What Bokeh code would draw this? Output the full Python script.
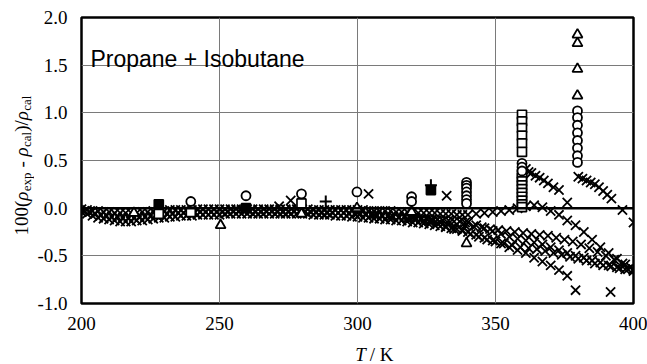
import math
from bokeh.plotting import figure
from bokeh.layouts import row, column
from bokeh.models import Range1d, FixedTicker, NumeralTickFormatter, Span, Label
from bokeh.embed import file_html
from bokeh.resources import INLINE

# ---------------- data ----------------
x_ticks = [200, 250, 300, 350, 400]
y_ticks = [-1.0, -0.5, 0.0, 0.5, 1.0, 1.5, 2.0]
title_text = "Propane + Isobutane"

# crosses: upper band line, continues near zero then falls to 400 K
cross_a_T = [200, 202, 204, 206, 208, 210, 212, 214, 216, 218, 220, 222, 224, 226, 228, 230,
             232, 234, 236, 238, 240, 242, 244, 246, 248, 250, 252, 254, 256, 258, 260, 262,
             264, 266, 268, 270, 272, 274, 276, 278, 280, 282, 284, 286, 288, 290, 292, 294,
             296, 298, 300, 302, 304, 306, 308, 310, 312, 314, 316, 318, 320, 322, 324, 326,
             328, 330, 332, 334, 336, 338, 340,
             343, 346, 349, 352, 355, 358, 361, 364, 367, 370, 373, 376, 379, 382, 385, 388,
             391, 394, 397, 400]
cross_a_dev = [-0.01, -0.02, -0.03, -0.03, -0.04, -0.04, -0.05, -0.05, -0.05, -0.05, -0.05, -0.04,
               -0.04, -0.03, -0.03, -0.03, -0.02, -0.02, -0.02, -0.02, -0.02, -0.01, -0.01, -0.01,
               -0.01, -0.01, -0.01, -0.01, -0.01, -0.01, -0.01, -0.01, -0.01, -0.01, -0.01, -0.01,
               -0.01, -0.01, -0.01, -0.01, -0.01, -0.01, -0.02, -0.02, -0.02, -0.02, -0.02, -0.02,
               -0.02, -0.02, -0.02, -0.02, -0.03, -0.03, -0.03, -0.03, -0.03, -0.04, -0.04, -0.04,
               -0.04, -0.05, -0.05, -0.05, -0.05, -0.06, -0.06, -0.06, -0.07, -0.07, -0.07,
               -0.06, -0.05, -0.04, -0.03, -0.02, 0.00, 0.02, 0.03, 0.01, -0.03, -0.07, -0.13,
               -0.18, -0.25, -0.33, -0.41, -0.47, -0.53, -0.59, -0.64]

# crosses: middle band line
cross_m_T = [201, 203, 205, 207, 209, 211, 213, 215, 217, 219,
             221, 223, 225, 227, 229, 231, 233, 235, 237, 239,
             241, 243, 245, 247, 249, 251, 253, 255, 257, 259,
             261, 263, 265, 267, 269, 271, 273, 275, 277, 279,
             281, 283, 285, 287, 289, 291, 293, 295, 297, 299,
             301, 303, 305, 307, 309, 311, 313, 315, 317, 319,
             321, 323, 325, 327, 329, 331, 333, 335, 337, 339]
cross_m_dev = [-0.03, -0.04, -0.06, -0.07, -0.08, -0.09, -0.09, -0.10, -0.10, -0.10,
               -0.09, -0.09, -0.08, -0.07, -0.07, -0.06, -0.06, -0.05, -0.05, -0.05,
               -0.05, -0.04, -0.04, -0.04, -0.04, -0.04, -0.04, -0.03, -0.03, -0.03,
               -0.03, -0.04, -0.04, -0.03, -0.03, -0.04, -0.04, -0.04, -0.03, -0.03,
               -0.04, -0.04, -0.04, -0.05, -0.05, -0.05, -0.05, -0.05, -0.06, -0.06,
               -0.06, -0.07, -0.07, -0.07, -0.08, -0.08, -0.09, -0.09, -0.09, -0.10,
               -0.10, -0.11, -0.11, -0.12, -0.12, -0.13, -0.13, -0.14, -0.14, -0.15]

# crosses: lower band line
cross_b_T = [200, 202, 204, 206, 208, 210, 212, 214, 216, 218, 220, 222, 224, 226, 228, 230,
             232, 234, 236, 238, 240, 242, 244, 246, 248, 250, 252, 254, 256, 258, 260, 262,
             264, 266, 268, 270, 272, 274, 276, 278, 280, 282, 284, 286, 288, 290, 292, 294,
             296, 298, 300, 302, 304, 306, 308, 310, 312, 314, 316, 318, 320, 322, 324, 326,
             328, 330, 332, 334, 336, 338, 340,
             343, 346, 349, 352, 355, 358, 361, 364, 367, 370, 373, 376, 379]
cross_b_dev = [-0.04, -0.06, -0.08, -0.10, -0.11, -0.12, -0.13, -0.14, -0.14, -0.14, -0.13, -0.13,
               -0.12, -0.11, -0.10, -0.10, -0.09, -0.09, -0.08, -0.08, -0.08, -0.07, -0.07, -0.07,
               -0.07, -0.07, -0.06, -0.06, -0.06, -0.06, -0.06, -0.06, -0.06, -0.06, -0.06, -0.06,
               -0.06, -0.06, -0.06, -0.06, -0.06, -0.06, -0.07, -0.07, -0.07, -0.07, -0.08, -0.08,
               -0.08, -0.09, -0.09, -0.10, -0.10, -0.11, -0.11, -0.12, -0.12, -0.13, -0.13, -0.14,
               -0.15, -0.15, -0.16, -0.17, -0.18, -0.19, -0.20, -0.21, -0.22, -0.23, -0.25,
               -0.28, -0.31, -0.34, -0.37, -0.41, -0.44, -0.47, -0.52, -0.56, -0.60, -0.65, -0.71,
               -0.86]

# crosses: diverging lines at high temperature
cross_c_T = [300, 303, 306, 309, 312, 315, 318, 321, 324, 327, 330, 333, 336, 339, 342, 345,
             348, 351, 354, 357, 360, 363, 366, 369, 372, 375, 378, 381, 384, 387, 390, 393,
             396, 399]
cross_c_dev = [-0.05, -0.06, -0.07, -0.08, -0.09, -0.10, -0.11, -0.12, -0.13, -0.14, -0.15, -0.16,
               -0.17, -0.18, -0.19, -0.20, -0.22, -0.23, -0.24, -0.25, -0.26, -0.27, -0.28, -0.29,
               -0.31, -0.33, -0.35, -0.38, -0.42, -0.46, -0.50, -0.54, -0.58, -0.62]

cross_d_T = [320, 323, 326, 329, 332, 335, 338, 341, 344, 347, 350, 353, 356, 359, 362, 365,
             368, 371, 374, 377, 380, 383, 386, 389, 392, 395, 398, 400]
cross_d_dev = [-0.10, -0.12, -0.14, -0.16, -0.19, -0.22, -0.24, -0.27, -0.30, -0.33, -0.35, -0.37,
               -0.39, -0.41, -0.42, -0.43, -0.45, -0.47, -0.49, -0.51, -0.53, -0.55, -0.58, -0.60,
               -0.61, -0.63, -0.64, -0.65]

cross_e_T = [340, 343, 346, 349, 352, 355, 358, 361, 364, 367, 370, 373, 376, 379, 382, 385,
             388, 391, 394, 397, 400]
cross_e_dev = [-0.15, -0.18, -0.21, -0.24, -0.27, -0.30, -0.32, -0.34, -0.36, -0.38, -0.41, -0.44,
               -0.47, -0.50, -0.52, -0.55, -0.57, -0.60, -0.62, -0.64, -0.66]

# crosses: two upper branches and isolated points
cross_f_T = [361, 362, 363, 364.5, 366, 367.5, 369, 371, 373, 376]
cross_f_dev = [0.41, 0.38, 0.37, 0.34, 0.32, 0.29, 0.26, 0.22, 0.19, 0.06]
cross_g_T = [380, 381.5, 383, 384.5, 386, 387.5, 389, 390.5, 392, 396, 400]
cross_g_dev = [0.33, 0.31, 0.29, 0.27, 0.25, 0.22, 0.18, 0.14, 0.10, -0.02, -0.15]
cross_h_T = [271.6, 275.8, 304.0, 332.3, 391.7]
cross_h_dev = [0.02, 0.08, 0.15, 0.13, -0.88]

# open circles
circ_T = [239.6, 259.6, 279.7, 299.8, 319.6, 319.6,
          339.5, 339.5, 339.5, 339.5, 339.5, 339.5, 339.5,
          359.6, 359.6, 359.6,
          379.7, 379.7, 379.7, 379.7, 379.7, 379.7, 379.7, 379.7]
circ_dev = [0.07, 0.13, 0.15, 0.17, 0.12, 0.07,
            0.27, 0.24, 0.21, 0.17, 0.13, 0.09, 0.05,
            0.47, 0.43, 0.39,
            1.02, 0.95, 0.87, 0.79, 0.71, 0.63, 0.55, 0.48]

# open squares
sq_T = [228.0, 239.6, 279.7,
        359.6, 359.6, 359.6, 359.6, 359.6, 359.6,
        359.6, 359.6, 359.6, 359.6, 359.6, 359.6, 359.6, 359.6, 359.6, 359.6]
sq_dev = [-0.06, -0.04, 0.05,
          0.98, 0.91, 0.84, 0.76, 0.68, 0.59,
          0.36, 0.32, 0.28, 0.24, 0.20, 0.16, 0.12, 0.08, 0.04, 0.01]

# filled squares
fsq_T = [228.0, 259.6, 326.6]
fsq_dev = [0.04, 0.00, 0.19]

# open triangles
tri_T = [219.0, 250.4, 279.7, 299.8, 319.6, 339.5, 379.7, 379.7, 379.7, 379.7]
tri_dev = [-0.05, -0.18, -0.06, 0.00, -0.04, -0.37, 1.18, 1.46, 1.73, 1.82]

# plus signs
plus_T = [288.5, 326.6]
plus_dev = [0.07, 0.24]

# ---------------- layout geometry ----------------
X0, X1 = 200, 400
Y0, Y1 = -1.0, 2.0
W, H = 647, 364
LW = 34            # left strip (rotated axis title)
BH = 26            # bottom strip (x axis title)
MW, MH = W - LW, H - BH
BL, BR, BT, BB = 78 - LW, 14, 17, MH - 303
FW, FH = MW - BL - BR, MH - BT - BB

p = figure(width=MW, height=MH, x_range=Range1d(X0, X1), y_range=Range1d(Y0, Y1),
           output_backend="svg", toolbar_location=None,
           min_border_left=BL, min_border_right=BR, min_border_top=BT, min_border_bottom=BB)
p.background_fill_color = "white"
p.border_fill_color = "white"
p.outline_line_color = "black"
p.outline_line_width = 2.5

for ax in (p.xaxis[0], p.yaxis[0]):
    ax.axis_line_color = None
    ax.major_tick_line_color = None
    ax.minor_tick_line_color = None
    ax.major_tick_out = 0
    ax.major_tick_in = 0
    ax.minor_tick_out = 0
    ax.minor_tick_in = 0
    ax.major_label_text_font = "Liberation Serif"
    ax.major_label_text_font_size = "19px"
    ax.major_label_text_color = "black"
p.xaxis.ticker = FixedTicker(ticks=x_ticks)
p.yaxis.ticker = FixedTicker(ticks=y_ticks)
p.xaxis.formatter = NumeralTickFormatter(format="0")
p.yaxis.formatter = NumeralTickFormatter(format="0.0")
p.xaxis.major_label_standoff = 13
p.yaxis.major_label_standoff = 14

p.xgrid.ticker = FixedTicker(ticks=[250, 300, 350])
p.ygrid.ticker = FixedTicker(ticks=[-0.5, 0.5, 1.0, 1.5])
p.xgrid.grid_line_color = "#7a7a7a"
p.ygrid.grid_line_color = "#7a7a7a"
p.xgrid.grid_line_width = 1
p.ygrid.grid_line_width = 1

p.add_layout(Span(location=0, dimension="width", line_color="black", line_width=2.5))

cross_sets = [(cross_a_T, cross_a_dev), (cross_m_T, cross_m_dev), (cross_b_T, cross_b_dev),
              (cross_c_T, cross_c_dev), (cross_d_T, cross_d_dev), (cross_e_T, cross_e_dev),
              (cross_f_T, cross_f_dev), (cross_g_T, cross_g_dev), (cross_h_T, cross_h_dev)]
for tx, dv in cross_sets:
    p.scatter(tx, dv, marker="x", size=13, line_color="black", line_width=1.8)

p.scatter(sq_T, sq_dev, marker="square", size=9, fill_color="white", line_color="black", line_width=1.7)
p.scatter(fsq_T, fsq_dev, marker="square", size=9, fill_color="black", line_color="black", line_width=1.7)
p.scatter(circ_T, circ_dev, marker="circle", size=9, fill_color="white", line_color="black", line_width=1.8)
p.scatter(tri_T, tri_dev, marker="triangle", size=10, fill_color="white", line_color="black", line_width=1.8)
p.scatter(plus_T, plus_dev, marker="cross", size=12, line_color="black", line_width=2)

# title inside the frame
def tx_px(px):           # full-picture pixel x -> data x
    return X0 + (px - 78) * (X1 - X0) / FW

def vy_px(py):           # full-picture pixel y -> data y
    return Y1 - (py - 17) * (Y1 - Y0) / FH

p.add_layout(Label(x=tx_px(87), y=vy_px(58), text=title_text, text_font="Liberation Sans",
                   text_font_size="23px", text_color="black", text_align="left",
                   text_baseline="alphabetic"))

# ---------------- strips for the axis titles ----------------
def strip(w, h):
    f = figure(width=w, height=h, x_range=Range1d(0, w), y_range=Range1d(0, h),
               output_backend="svg", toolbar_location=None,
               x_axis_location=None, y_axis_location=None,
               min_border_left=0, min_border_right=0, min_border_top=0, min_border_bottom=0)
    f.outline_line_color = None
    f.xgrid.visible = False
    f.ygrid.visible = False
    f.background_fill_color = "white"
    f.border_fill_color = "white"
    return f

left = strip(LW, H)
# (text, style, font px, subscript?, advance before, advance of the piece)
pieces = [("100(", "normal", 19, 0, 0.0, 34.8), ("ρ", "italic", 19, 0, 0.0, 9.5),
          ("exp", "normal", 13, 1, 0.0, 18.8), ("-", "normal", 19, 0, 4.8, 6.3),
          ("ρ", "italic", 19, 0, 4.8, 9.5), ("cal", "normal", 13, 1, 0.0, 15.2),
          (")/", "normal", 19, 0, 0.0, 11.6), ("ρ", "italic", 19, 0, 0.0, 9.5),
          ("cal", "normal", 13, 1, 0.0, 15.2)]
start_py = 235
mid_px = 21
off = 0.0
for txt, style, fs, sub, pre, wpx in pieces:
    off += pre
    left.add_layout(Label(x=mid_px + (5 if sub else 0), y=H - (start_py - off), text=txt,
                          text_font="Liberation Serif", text_font_style=style,
                          text_font_size=f"{fs}px", text_color="black", angle=math.pi / 2,
                          text_align="left", text_baseline="middle"))
    off += wpx

bottom = strip(MW, BH)
bx0 = 338 - LW
by = H - 354
bottom.add_layout(Label(x=bx0, y=by, text="T", text_font="Liberation Serif",
                        text_font_style="italic", text_font_size="19px", text_color="black",
                        text_align="left", text_baseline="alphabetic"))
bottom.add_layout(Label(x=bx0 + 16, y=by, text="/ K", text_font="Liberation Serif",
                        text_font_size="19px", text_color="black",
                        text_align="left", text_baseline="alphabetic"))

layout = row(left, column(p, bottom, spacing=0), spacing=0)
open("out.html", "w").write(file_html(layout, INLINE))
